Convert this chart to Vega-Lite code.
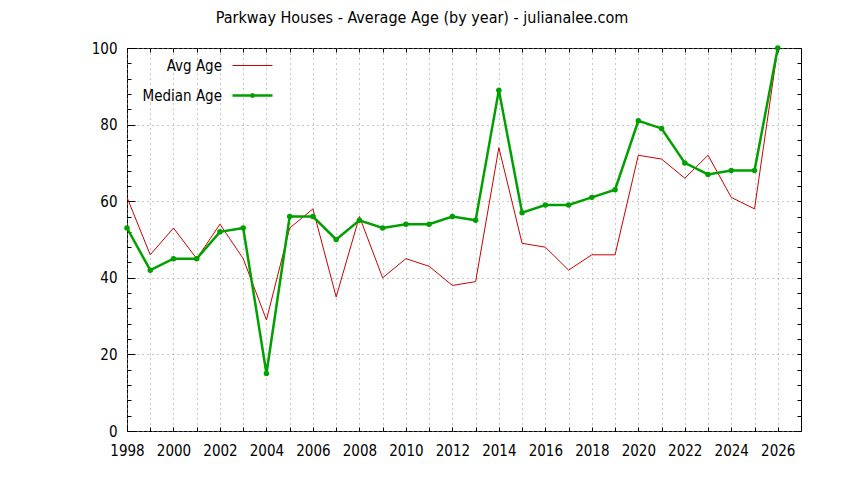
{
  "$schema": "https://vega.github.io/schema/vega-lite/v6.json",
  "autosize": "none",
  "padding": {"left": 127, "top": 48, "right": 43, "bottom": 49},
  "width": 674,
  "height": 383,
  "background": "white",
  "title": {
    "text": "Parkway Houses - Average Age (by year) - julianalee.com",
    "font": "DejaVu Sans Condensed, DejaVu Sans",
    "fontSize": 16,
    "fontWeight": "normal",
    "color": "black",
    "anchor": "middle",
    "dx": -42,
    "offset": 15
  },
  "data": {
    "values": [
      {"year": 1998, "series": "Avg Age", "age": 61}, {"year": 1998, "series": "Median Age", "age": 53},
      {"year": 1999, "series": "Avg Age", "age": 46}, {"year": 1999, "series": "Median Age", "age": 42},
      {"year": 2000, "series": "Avg Age", "age": 53}, {"year": 2000, "series": "Median Age", "age": 45},
      {"year": 2001, "series": "Avg Age", "age": 45}, {"year": 2001, "series": "Median Age", "age": 45},
      {"year": 2002, "series": "Avg Age", "age": 54}, {"year": 2002, "series": "Median Age", "age": 52},
      {"year": 2003, "series": "Avg Age", "age": 45}, {"year": 2003, "series": "Median Age", "age": 53},
      {"year": 2004, "series": "Avg Age", "age": 29}, {"year": 2004, "series": "Median Age", "age": 15},
      {"year": 2005, "series": "Avg Age", "age": 53}, {"year": 2005, "series": "Median Age", "age": 56},
      {"year": 2006, "series": "Avg Age", "age": 58}, {"year": 2006, "series": "Median Age", "age": 56},
      {"year": 2007, "series": "Avg Age", "age": 35}, {"year": 2007, "series": "Median Age", "age": 50},
      {"year": 2008, "series": "Avg Age", "age": 56}, {"year": 2008, "series": "Median Age", "age": 55},
      {"year": 2009, "series": "Avg Age", "age": 40}, {"year": 2009, "series": "Median Age", "age": 53},
      {"year": 2010, "series": "Avg Age", "age": 45}, {"year": 2010, "series": "Median Age", "age": 54},
      {"year": 2011, "series": "Avg Age", "age": 43}, {"year": 2011, "series": "Median Age", "age": 54},
      {"year": 2012, "series": "Avg Age", "age": 38}, {"year": 2012, "series": "Median Age", "age": 56},
      {"year": 2013, "series": "Avg Age", "age": 39}, {"year": 2013, "series": "Median Age", "age": 55},
      {"year": 2014, "series": "Avg Age", "age": 74}, {"year": 2014, "series": "Median Age", "age": 89},
      {"year": 2015, "series": "Avg Age", "age": 49}, {"year": 2015, "series": "Median Age", "age": 57},
      {"year": 2016, "series": "Avg Age", "age": 48}, {"year": 2016, "series": "Median Age", "age": 59},
      {"year": 2017, "series": "Avg Age", "age": 42}, {"year": 2017, "series": "Median Age", "age": 59},
      {"year": 2018, "series": "Avg Age", "age": 46}, {"year": 2018, "series": "Median Age", "age": 61},
      {"year": 2019, "series": "Avg Age", "age": 46}, {"year": 2019, "series": "Median Age", "age": 63},
      {"year": 2020, "series": "Avg Age", "age": 72}, {"year": 2020, "series": "Median Age", "age": 81},
      {"year": 2021, "series": "Avg Age", "age": 71}, {"year": 2021, "series": "Median Age", "age": 79},
      {"year": 2022, "series": "Avg Age", "age": 66}, {"year": 2022, "series": "Median Age", "age": 70},
      {"year": 2023, "series": "Avg Age", "age": 72}, {"year": 2023, "series": "Median Age", "age": 67},
      {"year": 2024, "series": "Avg Age", "age": 61}, {"year": 2024, "series": "Median Age", "age": 68},
      {"year": 2025, "series": "Avg Age", "age": 58}, {"year": 2025, "series": "Median Age", "age": 68},
      {"year": 2026, "series": "Avg Age", "age": 100}, {"year": 2026, "series": "Median Age", "age": 100}
    ]
  },
  "encoding": {
    "x": {
      "field": "year",
      "type": "quantitative",
      "scale": {"domain": [1998, 2027], "nice": false, "zero": false}
    },
    "y": {
      "field": "age",
      "type": "quantitative",
      "scale": {"domain": [0, 100], "nice": false}
    }
  },
  "layer": [
    {
      "mark": {"type": "rule", "opacity": 0},
      "encoding": {
        "x": {
          "field": "year",
          "type": "quantitative",
          "axis": {
            "orient": "bottom",
            "values": [1998, 1999, 2000, 2001, 2002, 2003, 2004, 2005, 2006, 2007, 2008, 2009, 2010, 2011, 2012, 2013, 2014, 2015, 2016, 2017, 2018, 2019, 2020, 2021, 2022, 2023, 2024, 2025, 2026],
            "labelExpr": "datum.value % 2 == 0 ? datum.value : ''",
            "labelOverlap": false,
            "labelFlush": false,
            "title": null,
            "grid": true,
            "gridDash": [1, 4],
            "gridColor": "#909090",
            "gridOpacity": 1,
            "domain": false,
            "tickSize": -4,
            "tickColor": "black",
            "labelPadding": 16,
            "labelFontSize": 15,
            "labelFont": "DejaVu Sans Condensed, DejaVu Sans",
            "labelColor": "black"
          }
        },
        "y": {
          "field": "age",
          "type": "quantitative",
          "axis": {
            "orient": "left",
            "values": [0, 4, 8, 12, 16, 20, 24, 28, 32, 36, 40, 44, 48, 52, 56, 60, 64, 68, 72, 76, 80, 84, 88, 92, 96, 100],
            "labels": false,
            "title": null,
            "grid": false,
            "domain": false,
            "tickSize": -4,
            "tickColor": "black"
          }
        }
      }
    },
    {
      "mark": {"type": "rule", "opacity": 0},
      "encoding": {
        "x": {
          "field": "year",
          "type": "quantitative",
          "axis": {
            "orient": "top",
            "values": [1998, 1999, 2000, 2001, 2002, 2003, 2004, 2005, 2006, 2007, 2008, 2009, 2010, 2011, 2012, 2013, 2014, 2015, 2016, 2017, 2018, 2019, 2020, 2021, 2022, 2023, 2024, 2025, 2026],
            "labels": false,
            "title": null,
            "grid": false,
            "domain": false,
            "tickSize": -4,
            "tickColor": "black"
          }
        },
        "y": {
          "field": "age",
          "type": "quantitative",
          "axis": {
            "orient": "right",
            "values": [0, 4, 8, 12, 16, 20, 24, 28, 32, 36, 40, 44, 48, 52, 56, 60, 64, 68, 72, 76, 80, 84, 88, 92, 96, 100],
            "labels": false,
            "title": null,
            "grid": false,
            "domain": false,
            "tickSize": -4,
            "tickColor": "black"
          }
        }
      }
    },
    {
      "mark": {"type": "rule", "opacity": 0},
      "encoding": {
        "x": {"field": "year", "type": "quantitative", "axis": null},
        "y": {
          "field": "age",
          "type": "quantitative",
          "axis": {
            "orient": "left",
            "values": [0, 20, 40, 60, 80, 100],
            "title": null,
            "grid": true,
            "gridDash": [1, 4],
            "gridColor": "#909090",
            "gridOpacity": 1,
            "domain": false,
            "tickSize": -8,
            "tickColor": "black",
            "labelPadding": 18,
            "labelFontSize": 15,
            "labelFont": "DejaVu Sans Condensed, DejaVu Sans",
            "labelColor": "black"
          }
        }
      }
    },
    {
      "mark": {"type": "line", "clip": true},
      "encoding": {
        "x": {"field": "year", "type": "quantitative", "axis": null},
        "y": {"field": "age", "type": "quantitative", "axis": null},
        "color": {
          "field": "series",
          "type": "nominal",
          "scale": {"domain": ["Avg Age", "Median Age"], "range": ["#cc0000", "#00a000"]},
          "legend": {
            "orient": "none",
            "legendX": 104,
            "legendY": -3,
            "title": null,
            "symbolType": "stroke",
            "symbolSize": 1600,
            "symbolStrokeWidth": 1,
            "labelAlign": "right",
            "labelOffset": -52,
            "labelFontSize": 15,
            "labelFont": "DejaVu Sans Condensed, DejaVu Sans",
            "labelColor": "black",
            "rowPadding": 0,
            "encode": {
              "symbols": {
                "update": {
                  "shape": {"signal": "datum.value == 'Median Age' ? 'M-1,0L1,0M0.06,0A0.06,0.06 0 1 1 -0.06,0A0.06,0.06 0 1 1 0.06,0' : 'stroke'"},
                  "strokeWidth": {"signal": "datum.value == 'Median Age' ? 2.5 : 1"}
                }
              },
              "entries": {
                "update": {
                  "height": {"value": 20}
                }
              }
            }
          }
        },
        "strokeWidth": {
          "field": "series",
          "type": "nominal",
          "scale": {"domain": ["Avg Age", "Median Age"], "range": [1, 2.5]},
          "legend": null
        }
      }
    },
    {
      "transform": [{"filter": "datum.series == 'Median Age'"}],
      "mark": {"type": "point", "filled": true, "size": 30, "color": "#00a000", "opacity": 1},
      "encoding": {
        "x": {"field": "year", "type": "quantitative", "axis": null},
        "y": {"field": "age", "type": "quantitative", "axis": null}
      }
    }
  ],
  "resolve": {"axis": {"x": "independent", "y": "independent"}},
  "config": {
    "view": {"stroke": "black", "strokeWidth": 1}
  }
}
